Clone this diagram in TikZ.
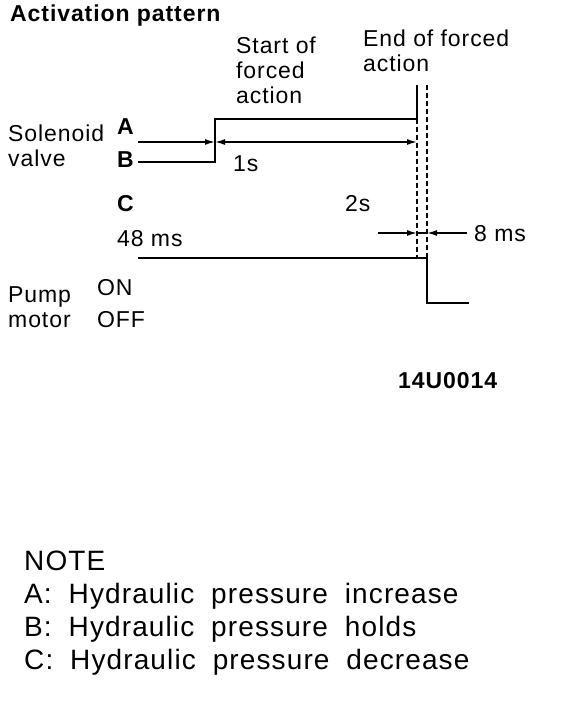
\documentclass[tikz,border=0pt]{standalone}
\usepackage{fontspec}
\setmainfont[LetterSpace=4]{Liberation Sans}
\newfontfamily\notefont[LetterSpace=4,WordSpace=1.9]{Liberation Sans}
\usetikzlibrary{arrows.meta}

\tikzset{
  lbl/.style={anchor=base west,inner sep=0pt,align=left,
    font=\fontsize{23}{25}\selectfont},
  key/.style={lbl,font=\fontsize{23}{25}\selectfont\bfseries},
  note/.style={anchor=base west,inner sep=0pt,align=left,
    font=\notefont\fontsize{28}{33}\selectfont},
  signal/.style={line width=2.8pt},
  dim/.style={line width=1.5pt,-{Latex[length=10pt,width=6pt]}},
  guide/.style={line width=1.6pt,dash pattern=on 5pt off 3pt}
}

\begin{document}
\begin{tikzpicture}[x=1pt,y=-1pt]

\useasboundingbox (0,0) rectangle (560,708) ;

% texts (multi-line nodes sit on their last line)
\node[key] (title) at (10,22) {Activation pattern} ;
\node[lbl] (start) at (236,104) {Start of\\forced\\action} ;
\node[lbl] (end) at (363,72) {End of forced\\action} ;
\node[lbl] (sol) at (8,167) {Solenoid\\valve} ;
\node[key] (a) at (117,135) {A} ;
\node[key] (b) at (117,168) {B} ;
\node[key] (c) at (117,212) {C} ;
\node[lbl] (one) at (233,172) {1s} ;
\node[lbl] (two) at (345,212) {2s} ;
\node[lbl] (ms48) at (117,247) {48 ms} ;
\node[lbl] (ms8) at (474,241) {8 ms} ;
\node[lbl] (pump) at (8,327) {Pump\\motor} ;
\node[lbl] (on) at (97,295) {ON} ;
\node[lbl] (off) at (97,327) {OFF} ;
\node[key] (fig) at (398,388) {14U0014} ;
\node[note] (note) at (24,669) {NOTE\\A: Hydraulic pressure increase\\B: Hydraulic pressure holds\\C: Hydraulic pressure decrease} ;

% time marks
\coordinate (t0) at (138,0) ;
\coordinate (t1) at (215,0) ;
\coordinate (t2) at (417,0) ;
\coordinate (t3) at (427,0) ;

% solenoid valve
\draw[signal] (t0 |- 0,162) -- (t1 |- 0,162) -- (t1 |- 0,119) -- (t2 |- 0,119) -- (t2 |- 0,85) ;
\draw[dim] (t0 |- 0,142) -- (t1 |- 0,142) ;
\draw[dim,{Latex[length=10pt,width=6pt]}-{Latex[length=10pt,width=6pt]}] (t1 |- 0,142) -- (t2 |- 0,142) ;

% end of forced action
\draw[guide] (t2 |- 0,119) -- (t2 |- 0,258) ;
\draw[guide] (t3 |- 0,85) -- (t3 |- 0,258) ;
\draw[dim] (378,233) -- (t2 |- 0,233) ;
\draw[dim] (467,233) -- (t3 |- 0,233) ;
\draw[line width=1.5pt] (t2 |- 0,233) -- (t3 |- 0,233) ;

% pump motor
\draw[signal] (t0 |- 0,258) -- (t3 |- 0,258) -- (t3 |- 0,303) -- (469,303) ;

\end{tikzpicture}
\end{document}
